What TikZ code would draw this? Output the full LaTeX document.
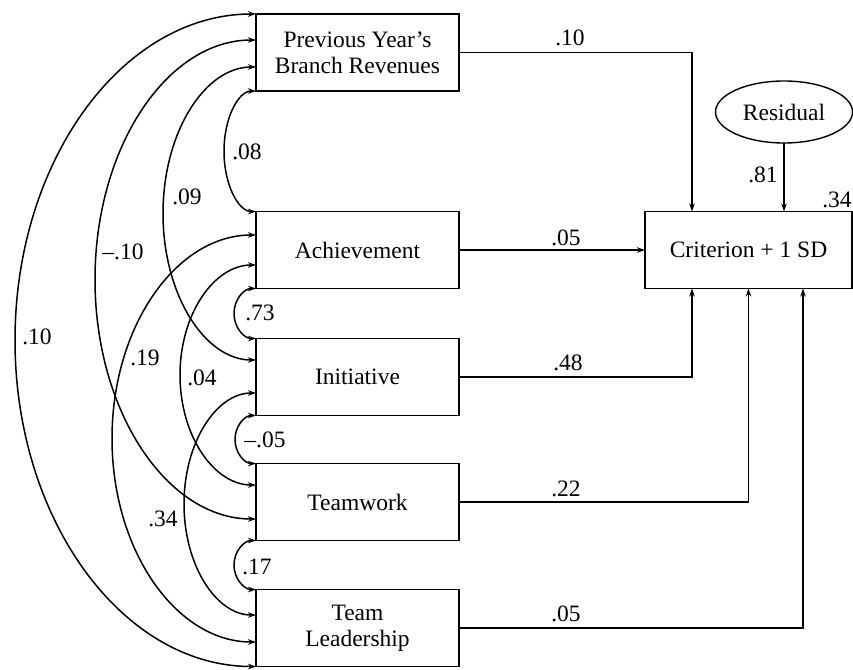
\documentclass[tikz,border=0pt]{standalone}
\usepackage{fontspec}
\setmainfont{Liberation Serif}
\usetikzlibrary{arrows.meta,calc,shapes.geometric}
\begin{document}
\begin{tikzpicture}[x=1pt,y=-1pt,
  every node/.style={font=\fontsize{23.5}{26}\selectfont},
  box/.style={draw, line width=1.4pt, minimum width=203pt, minimum height=77pt, inner sep=0pt, outer sep=0pt, align=center},
  lbl/.style={inner sep=0pt},
  corr/.style={{Stealth[length=8pt,width=5.5pt]}-{Stealth[length=8pt,width=5.5pt]}, line width=1.5pt},
  link/.style={line width=1.5pt, -{Stealth[length=8pt,width=5.5pt]}}
]
\useasboundingbox (0,0) rectangle (853,669);

% boxes
\node[box] (prev) at (357.5,52.5) {Previous Year’s\\Branch Revenues};
\node[box] (ach)  at (357.5,250) {Achievement};
\node[box] (ini)  at (357.5,377) {Initiative};
\node[box] (team) at (357.5,502) {Teamwork};
\node[box] (tl)   at (357.5,628) {Team\\Leadership};
\node[box, minimum width=207pt] (crit) at (748.5,250) {Criterion + 1 SD};
\node[draw, ellipse, line width=1.4pt, minimum width=137pt, minimum height=62pt, inner sep=0pt, outer sep=0pt] (res) at (784,112) {Residual};

% paths to criterion
\draw[link] (prev.east) -| ([xshift=-56.5pt]crit.north);
\draw[link] (ach.east) -- (crit.west);
\draw[link] (ini.east) -| ([xshift=-56.5pt]crit.south);
\draw[link] (team.east) -| (crit.south);
\draw[link] (tl.east) -| ([xshift=54.5pt]crit.south);
\draw[link] (res.south) -- (res.south |- crit.north);

\node[lbl] at (570,38) {.10};
\node[lbl] at (566,238) {.05};
\node[lbl] at (568,363) {.48};
\node[lbl] at (566,489) {.22};
\node[lbl] at (566,614) {.05};
\node[lbl] at (763,175) {.81};
\node[lbl] at (837,200) {.34};

% correlations
% .10 prev - tl
\draw[corr] (prev.north west) .. controls (122.9,14) and (15,160.05) .. (15,340.25)
  .. controls (15,520.45) and (122.9,666.5) .. (tl.south west);
% -.10 prev - team
\draw[corr] ([yshift=12.5pt]prev.west) .. controls (167.1,40) and (95,147.2) .. (95,279.5)
  .. controls (95,411.8) and (167.1,519) .. ([yshift=-17pt]team.west);
% .09 prev - ini
\draw[corr] ([yshift=-14.5pt]prev.west) .. controls (204.6,67) and (163,132.6) .. (163,213.5)
  .. controls (163,294.4) and (204.6,360) .. ([yshift=17pt]ini.west);
% .08 prev - ach
\draw[corr] (prev.south west) .. controls (238.3,91) and (224,117.95) .. (224,151.25)
  .. controls (224,184.55) and (238.3,211.5) .. (ach.north west);
% .19 ach - tl
\draw[corr] ([yshift=15pt]ach.west) .. controls (176.5,235) and (112,326.1) .. (112,438.5)
  .. controls (112,550.9) and (176.5,642) .. ([yshift=-14pt]tl.west);
% .04 ach - team
\draw[corr] ([yshift=-15pt]ach.west) .. controls (214,265) and (180,314.2) .. (180,375)
  .. controls (180,435.8) and (214,485) .. ([yshift=17pt]team.west);
% .73 ach - ini
\draw[corr] (ach.south west) .. controls (243.8,288.5) and (234,299.7) .. (234,313.5)
  .. controls (234,327.3) and (243.8,338.5) .. (ini.north west);
% .34 ini - tl
\draw[corr] ([yshift=-16pt]ini.west) .. controls (216.2,393) and (184,442.7) .. (184,504)
  .. controls (184,565.3) and (216.2,615) .. ([yshift=13pt]tl.west);
% -.05 ini - team
\draw[corr] (ini.south west) .. controls (244.4,415.5) and (235,426.2) .. (235,439.5)
  .. controls (235,452.8) and (244.4,463.5) .. (team.north west);
% .17 team - tl
\draw[corr] (team.south west) .. controls (243.8,540.5) and (234,551.5) .. (234,565)
  .. controls (234,578.5) and (243.8,589.5) .. (tl.north west);

\node[lbl] at (247,152) {.08};
\node[lbl] at (187,197) {.09};
\node[lbl] at (123,252) {–.10};
\node[lbl] at (37,337) {.10};
\node[lbl] at (145,358) {.19};
\node[lbl] at (202,378) {.04};
\node[lbl] at (163,519) {.34};
\node[lbl] at (260,313) {.73};
\node[lbl] at (265,440) {–.05};
\node[lbl] at (257,567) {.17};
\end{tikzpicture}
\end{document}
